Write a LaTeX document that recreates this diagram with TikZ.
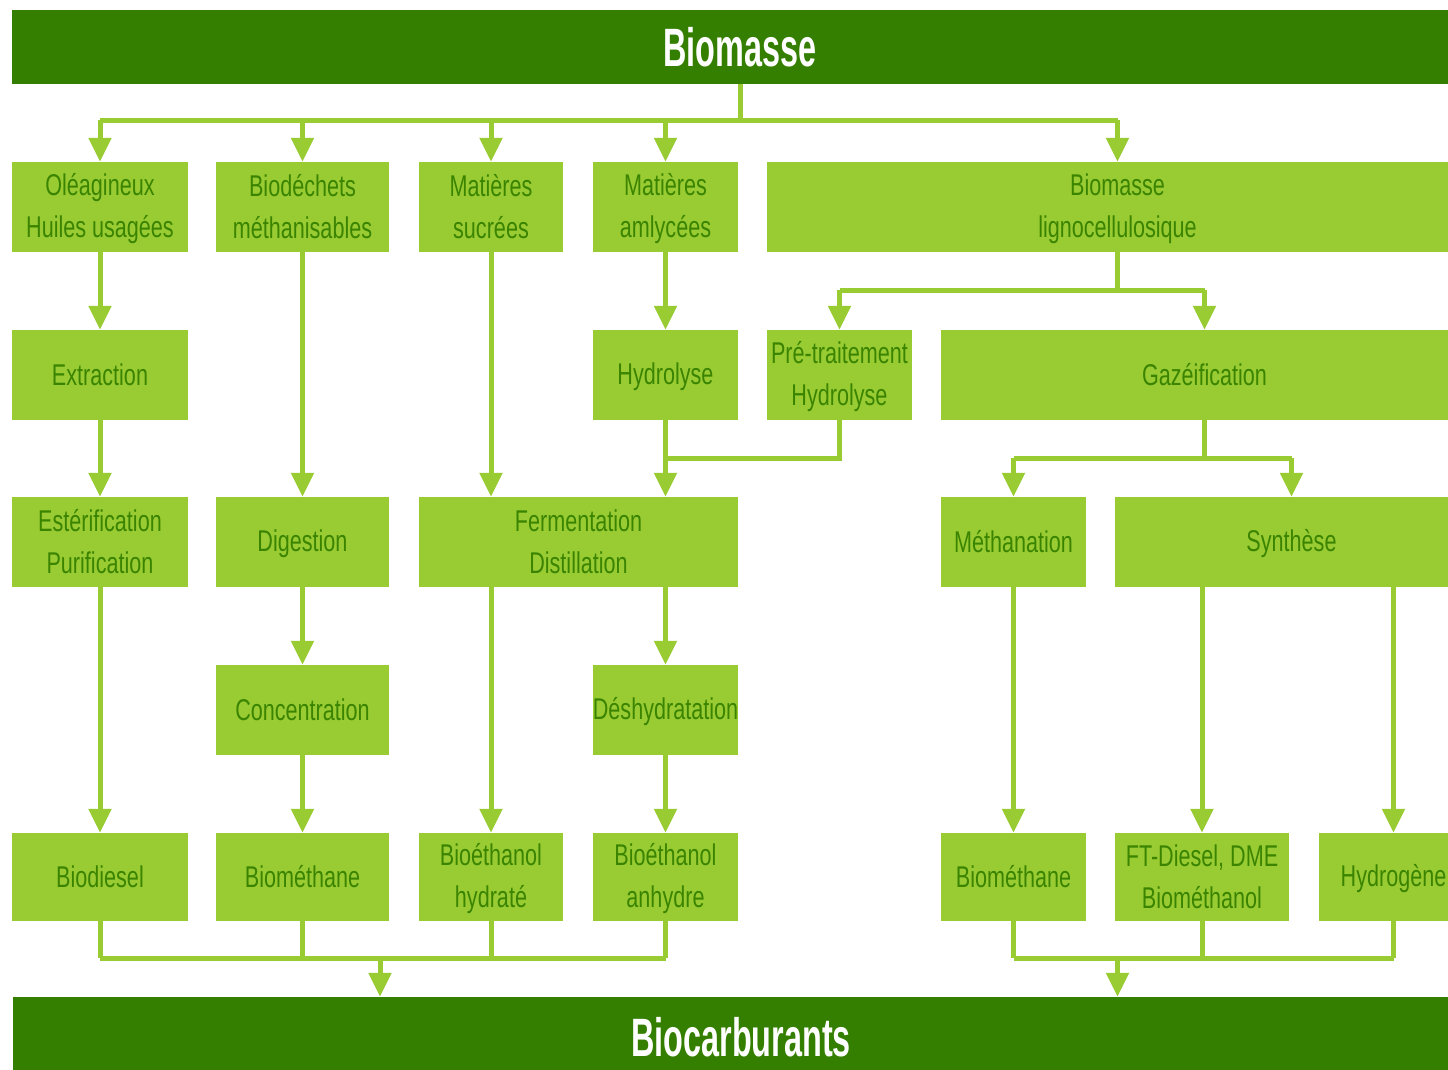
\documentclass[tikz,border=0pt]{standalone}
\usepackage{fontspec}
\setmainfont{Liberation Sans}
\newfontfamily\boxfont{Liberation Sans}[FakeStretch=0.72]
\newfontfamily\titlefont{Liberation Sans Bold}[FakeStretch=0.6]
\usetikzlibrary{arrows.meta}
\definecolor{darkg}{HTML}{357F00}
\definecolor{lightg}{HTML}{99CC33}
\definecolor{txtg}{HTML}{3A8400}
\newcommand\topstrut{\rule{0pt}{26pt}}
\newcommand\botstrut{\rule[-6pt]{0pt}{6pt}}
\tikzset{
  box/.style={fill=lightg, draw=none, inner sep=0pt, align=center, text=txtg,
    font=\boxfont\fontsize{30}{42}\selectfont, minimum height=90pt},
  bar/.style={fill=darkg, draw=none, inner sep=0pt, text=white,
    font=\titlefont\fontsize{54}{60}\selectfont},
  conn/.style={draw=lightg, line width=5pt},
  arr/.style={conn, -{Triangle[width=22pt,length=24pt]}},
}
\begin{document}
\begin{tikzpicture}[x=1pt,y=-1pt]
\clip (0,0) rectangle (1448,1069);
\fill[white] (0,0) rectangle (1448,1069);
% title bars
\node[bar, minimum width=1456pt, minimum height=74pt] (top) at (740,47) {Biomasse};
\node[bar, minimum width=1456pt, minimum height=80pt] (bot) at (741,1037) {Biocarburants};
% row 1
\node[box, minimum width=176pt] (ole) at (100,207) {\topstrut Oléagineux\\Huiles usagées\botstrut};
\node[box, minimum width=173pt] (bio) at (302.5,207) {\topstrut Biodéchets\\méthanisables\botstrut};
\node[box, minimum width=144pt] (suc) at (491,207) {\topstrut Matières\\sucrées\botstrut};
\node[box, minimum width=145pt] (ami) at (665.5,207) {\topstrut Matières\\amlycées\botstrut};
\node[box, minimum width=701pt] (lig) at (1117.5,207) {\topstrut Biomasse\\lignocellulosique\botstrut};
% row 2
\node[box, minimum width=176pt] (ext) at (100,375) {\topstrut Extraction\botstrut};
\node[box, minimum width=145pt] (hyd) at (665.5,375) {\topstrut Hydrolyse\botstrut};
\node[box, minimum width=145pt] (pre) at (839.5,375) {\topstrut Pré-traitement\\Hydrolyse\botstrut};
\node[box, minimum width=527pt] (gaz) at (1204.5,375) {\topstrut Gazéification\botstrut};
% row 3
\node[box, minimum width=176pt] (est) at (100,542) {\topstrut Estérification\\Purification\botstrut};
\node[box, minimum width=173pt] (dig) at (302.5,542) {\topstrut Digestion\botstrut};
\node[box, minimum width=319pt] (fer) at (578.5,542) {\topstrut Fermentation\\Distillation\botstrut};
\node[box, minimum width=145pt] (met) at (1013.5,542) {\topstrut Méthanation\botstrut};
\node[box, minimum width=353pt] (syn) at (1291.5,542) {\topstrut Synthèse\botstrut};
% row 4
\node[box, minimum width=173pt] (con) at (302.5,710) {\topstrut Concentration\botstrut};
\node[box, minimum width=145pt] (des) at (665.5,710) {\topstrut Déshydratation\botstrut};
% row 5
\node[box, minimum width=176pt, minimum height=88pt] (bdi) at (100,877) {\topstrut Biodiesel\botstrut};
\node[box, minimum width=173pt, minimum height=88pt] (bm1) at (302.5,877) {\topstrut Biométhane\botstrut};
\node[box, minimum width=144pt, minimum height=88pt] (bhy) at (491,877) {\topstrut Bioéthanol\\hydraté\botstrut};
\node[box, minimum width=145pt, minimum height=88pt] (ban) at (665.5,877) {\topstrut Bioéthanol\\anhydre\botstrut};
\node[box, minimum width=145pt, minimum height=88pt] (bm2) at (1013.5,877) {\topstrut Biométhane\botstrut};
\node[box, minimum width=174pt, minimum height=88pt] (ftd) at (1202,877) {\topstrut FT-Diesel, DME\\Biométhanol\botstrut};
\node[box, minimum width=149pt, minimum height=88pt] (hgn) at (1393.5,877) {\topstrut Hydrogène\botstrut};
% junction coordinates
\coordinate (j1) at (740,120);
\coordinate (j2) at (1117.5,290);
\coordinate (j3) at (0,458);
\coordinate (j4) at (1204.5,458);
\coordinate (j5) at (380,958);
\coordinate (j6) at (1117.5,958);
% top distribution
\draw[conn] (top.south -| j1) -- (j1);
\draw[conn] (j1 -| ole) -- (j1 -| lig);
\foreach \n in {ole,bio,suc,ami,lig} \draw[arr] (j1 -| \n) -- (\n.north);
% lignocellulosique split
\draw[conn] (lig.south) -- (j2);
\draw[conn] (j2 -| pre) -- (j2 -| gaz);
\draw[arr] (j2 -| pre) -- (pre.north);
\draw[arr] (j2 -| gaz) -- (gaz.north);
% column 1
\draw[arr] (ole) -- (ext);
\draw[arr] (ext) -- (est);
\draw[arr] (est) -- (bdi);
% column 2
\draw[arr] (bio) -- (dig);
\draw[arr] (dig) -- (con);
\draw[arr] (con) -- (bm1);
% sugars / starch
\draw[arr] (suc.south) -- (suc.south |- fer.north);
\draw[arr] (ami) -- (hyd);
\draw[arr] (hyd.south) -- (hyd.south |- fer.north);
\draw[conn] (pre.south) |- (j3 -| hyd);
\draw[arr] (fer.south -| bhy) -- (bhy.north);
\draw[arr] (fer.south -| des) -- (des.north);
\draw[arr] (des) -- (ban);
% gasification
\draw[conn] (gaz.south) -- (j4);
\draw[conn] (j4 -| met) -- (j4 -| syn);
\draw[arr] (j4 -| met) -- (met.north);
\draw[arr] (j4 -| syn) -- (syn.north);
\draw[arr] (met) -- (bm2);
\draw[arr] (syn.south -| ftd) -- (ftd.north);
\draw[arr] (syn.south -| hgn) -- (hgn.north);
% bottom collectors
\foreach \n in {bdi,bm1,bhy,ban} \draw[conn] (\n.south) -- (j5 -| \n);
\draw[conn] (j5 -| bdi) -- (j5 -| ban);
\draw[arr] (j5) -- (j5 |- bot.north);
\foreach \n in {bm2,ftd,hgn} \draw[conn] (\n.south) -- (j6 -| \n);
\draw[conn] (j6 -| bm2) -- (j6 -| hgn);
\draw[arr] (j6) -- (j6 |- bot.north);
\end{tikzpicture}
\end{document}
